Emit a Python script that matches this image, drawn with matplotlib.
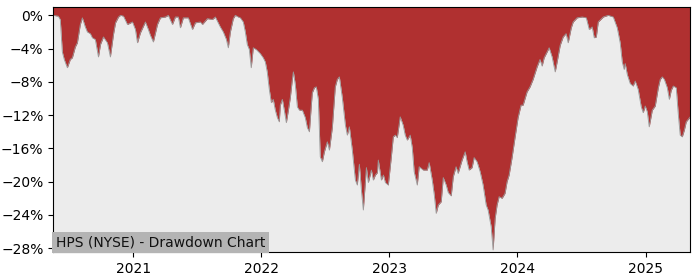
import matplotlib
matplotlib.use("Agg")
import matplotlib.pyplot as plt
import matplotlib.dates as mdates
import matplotlib.ticker as mtick
import numpy as np
import pandas as pd

title = "HPS (NYSE) - Drawdown Chart"

# dates as decimal years, drawdown in percent
years = [
    2020.378, 2020.417, 2020.433, 2020.449, 2020.464, 2020.488, 2020.511, 2020.527,
    2020.550, 2020.566, 2020.589, 2020.605, 2020.628, 2020.644, 2020.667, 2020.683,
    2020.706, 2020.730, 2020.746, 2020.769, 2020.800, 2020.823, 2020.847, 2020.863,
    2020.886, 2020.902, 2020.925, 2020.956, 2020.995, 2021.018, 2021.034, 2021.057,
    2021.096, 2021.119, 2021.135, 2021.158, 2021.190, 2021.213, 2021.252, 2021.275,
    2021.307, 2021.330, 2021.353, 2021.369, 2021.392, 2021.431, 2021.463, 2021.486,
    2021.525, 2021.541, 2021.580, 2021.619, 2021.642, 2021.681, 2021.704, 2021.728,
    2021.743, 2021.759, 2021.782, 2021.798, 2021.821, 2021.837, 2021.860, 2021.876,
    2021.891, 2021.907, 2021.922, 2021.938, 2021.961, 2021.993, 2022.016, 2022.032,
    2022.047, 2022.063, 2022.079, 2022.094, 2022.110, 2022.126, 2022.141, 2022.149,
    2022.165, 2022.180, 2022.196, 2022.212, 2022.227, 2022.243, 2022.251, 2022.266,
    2022.282, 2022.298, 2022.321, 2022.344, 2022.360, 2022.376, 2022.391, 2022.399,
    2022.415, 2022.430, 2022.446, 2022.461, 2022.477, 2022.493, 2022.516, 2022.532,
    2022.555, 2022.578, 2022.594, 2022.610, 2022.633, 2022.657, 2022.672, 2022.688,
    2022.711, 2022.735, 2022.750, 2022.766, 2022.782, 2022.797, 2022.821, 2022.836,
    2022.860, 2022.875, 2022.891, 2022.907, 2022.914, 2022.938, 2022.954, 2022.969,
    2022.992, 2023.015, 2023.031, 2023.047, 2023.062, 2023.085, 2023.108, 2023.124,
    2023.140, 2023.163, 2023.179, 2023.194, 2023.218, 2023.233, 2023.265, 2023.296,
    2023.311, 2023.335, 2023.351, 2023.366, 2023.382, 2023.405, 2023.421, 2023.444,
    2023.460, 2023.483, 2023.499, 2023.521, 2023.537, 2023.568, 2023.592, 2023.607,
    2023.623, 2023.646, 2023.662, 2023.685, 2023.709, 2023.732, 2023.756, 2023.771,
    2023.795, 2023.810, 2023.826, 2023.841, 2023.857, 2023.880, 2023.903, 2023.919,
    2023.935, 2023.958, 2023.981, 2024.005, 2024.028, 2024.044, 2024.075, 2024.098,
    2024.122, 2024.153, 2024.176, 2024.192, 2024.208, 2024.231, 2024.247, 2024.270,
    2024.294, 2024.309, 2024.333, 2024.356, 2024.379, 2024.395, 2024.419, 2024.434,
    2024.465, 2024.504, 2024.536, 2024.559, 2024.582, 2024.598, 2024.614, 2024.629,
    2024.668, 2024.707, 2024.746, 2024.777, 2024.800, 2024.816, 2024.831, 2024.839,
    2024.855, 2024.878, 2024.901, 2024.917, 2024.940, 2024.964, 2024.979, 2024.995,
    2025.011, 2025.026, 2025.050, 2025.073, 2025.097, 2025.112, 2025.128, 2025.144,
    2025.167, 2025.183, 2025.198, 2025.214, 2025.237, 2025.253, 2025.268, 2025.284,
    2025.300, 2025.315, 2025.346,
]
drawdown = [
    0.0, -0.1, -0.5, -4.4, -5.3, -6.3, -5.3, -5.1,
    -3.8, -3.3, -1.1, -0.3, -1.4, -2.0, -2.2, -2.7,
    -2.9, -5.0, -3.5, -2.6, -3.3, -5.0, -2.3, -0.9,
    -0.2, 0.0, -0.1, -1.1, -0.8, -1.7, -3.3, -2.1,
    -0.8, -1.7, -2.4, -3.2, -1.1, -0.3, -0.2, 0.0,
    -1.1, -0.2, -0.2, -1.5, -0.3, -0.3, -1.7, -0.9,
    -0.8, -1.1, -0.4, -0.5, -0.2, -1.4, -2.0, -2.9,
    -3.9, -2.0, -0.4, 0.0, -0.2, -0.3, -0.8, -2.0,
    -3.5, -4.1, -6.3, -3.9, -4.1, -4.6, -5.1, -5.6,
    -6.8, -8.9, -10.5, -10.1, -11.4, -12.3, -12.8, -10.8,
    -10.1, -11.4, -12.9, -11.4, -9.9, -7.7, -6.8, -8.3,
    -11.0, -11.4, -11.4, -12.3, -13.5, -14.0, -10.8, -9.3,
    -8.7, -8.6, -10.1, -17.0, -17.6, -16.4, -15.2, -16.2,
    -13.5, -8.6, -7.7, -7.4, -9.9, -13.2, -14.4, -13.4,
    -16.2, -19.8, -20.4, -17.9, -21.0, -23.4, -18.3, -20.1,
    -18.6, -19.8, -19.2, -18.9, -17.4, -19.8, -19.2, -20.1,
    -20.4, -17.1, -14.6, -14.4, -14.7, -12.2, -13.2, -14.4,
    -15.0, -14.4, -15.9, -18.8, -20.4, -18.2, -18.6, -18.6,
    -17.7, -19.8, -21.6, -23.8, -22.8, -22.4, -19.5, -20.4,
    -21.3, -21.7, -19.4, -18.2, -19.0, -17.4, -16.4, -17.6,
    -18.6, -18.3, -17.1, -17.6, -18.8, -20.4, -22.8, -23.4,
    -25.4, -28.2, -24.4, -22.8, -21.8, -22.0, -21.4, -20.0,
    -19.2, -17.1, -14.7, -12.3, -10.8, -10.8, -9.2, -8.6,
    -7.7, -6.2, -5.3, -6.1, -5.1, -4.4, -3.9, -5.0,
    -6.8, -5.6, -3.6, -2.6, -2.2, -3.3, -1.5, -0.8,
    -0.3, -0.2, -0.3, -1.7, -1.4, -2.7, -2.6, -0.8,
    -0.2, 0.0, -0.2, -1.5, -3.3, -5.6, -6.5, -5.8,
    -7.1, -8.2, -8.5, -7.9, -8.9, -11.0, -11.7, -10.9,
    -11.6, -13.4, -11.4, -10.9, -8.7, -7.7, -7.4, -7.7,
    -8.7, -10.1, -9.0, -8.5, -8.7, -11.9, -14.4, -14.6,
    -13.8, -12.8, -12.2,
]


def to_date(y):
    start = pd.Timestamp(year=int(y), month=1, day=1)
    end = pd.Timestamp(year=int(y) + 1, month=1, day=1)
    return start + (end - start) * (y - int(y))


dates = [to_date(y) for y in years]
dd = np.array(drawdown)

fig = plt.figure(figsize=(7, 2.8), dpi=100)
ax = fig.add_axes([0.076, 0.1, 0.91, 0.875])
ax.set_facecolor('#ececec')

ytop = 1.0
ax.fill_between(dates, dd, ytop, color='#b03030', linewidth=0)
ax.plot(dates, dd, color='#999999', linewidth=0.6)

ax.set_xlim(dates[0], dates[-1])
ax.set_ylim(-28.45, ytop)

ax.yaxis.set_major_locator(mtick.MultipleLocator(4))
ax.yaxis.set_major_formatter(mtick.PercentFormatter(xmax=100, decimals=0))
ax.xaxis.set_major_locator(mdates.YearLocator())
ax.xaxis.set_major_formatter(mdates.DateFormatter('%Y'))

ax.text(0.004, 0.012, title, transform=ax.transAxes, ha='left', va='bottom',
        fontsize=10, color='#111111',
        bbox=dict(facecolor='#b4b4b4', edgecolor='none', pad=2.5))

fig.savefig('out.png', dpi=100)
